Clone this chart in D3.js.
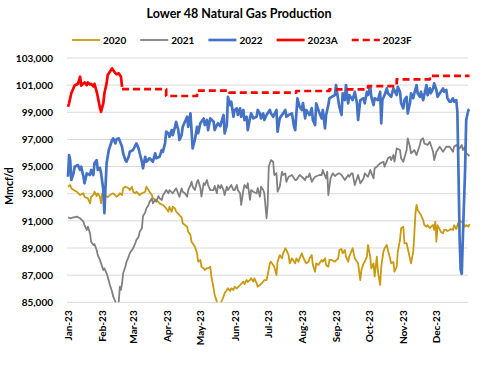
<!DOCTYPE html>
<html>
<head>
<meta charset="utf-8">
<script src="https://cdn.jsdelivr.net/npm/d3@7"></script>
<style>
  body { margin: 0; background: #fff; }
  text { font-family: Lato, "DejaVu Sans", sans-serif; font-weight: bold; fill: #000; }
</style>
</head>
<body>
<div id="chart"></div>
<script>
// daily production, [day of year (0 = Jan 1), Mmcf/d]
const prod2020 = [[0,93520],[2,93640],[3,93400],[5,93270],[8,93150],[11,92900],[14,93030],[15,92780],[18,92660],[20,92290],[21,92780],[23,92900],[24,93150],[26,92830],[27,93030],[29,92780],[30,92290],[31,93030],[33,92900],[36,92750],[38,92900],[41,93030],[44,92780],[46,92900],[47,93030],[49,92900],[50,93400],[52,93520],[55,93400],[56,93270],[58,93520],[59,93150],[61,93030],[62,93150],[65,92900],[67,93030],[70,93150],[71,93520],[74,93150],[76,92900],[77,92660],[80,92540],[82,92390],[83,92290],[86,92170],[89,91920],[91,91670],[92,92040],[94,91670],[95,92040],[97,91920],[98,91690],[101,91430],[103,91250],[104,90820],[106,90690],[108,90570],[109,90200],[111,89960],[112,89460],[113,89350],[115,89100],[117,88610],[118,87990],[120,88120],[121,87620],[123,87500],[124,87380],[126,87520],[127,87500],[129,87620],[130,86890],[132,86030],[133,85540],[135,85020],[136,84500],[137,84200],[138,84600],[139,85040],[141,85410],[142,85660],[144,85910],[145,86030],[147,85830],[148,86030],[150,85910],[151,86150],[153,86020],[156,86270],[159,86520],[160,86350],[162,86640],[163,86500],[165,86640],[166,86770],[168,86520],[169,86770],[171,86400],[172,86150],[174,86270],[177,86520],[178,86640],[180,86640],[181,87010],[183,87870],[184,87990],[186,87750],[187,87620],[189,87010],[190,87990],[192,88480],[194,88240],[195,88610],[197,88980],[198,88850],[200,88480],[201,87870],[203,88240],[204,88120],[206,87870],[207,88240],[209,87990],[210,88240],[212,88610],[213,88360],[215,87990],[216,87870],[218,87990],[219,88240],[221,88480],[222,87750],[224,87250],[225,87870],[227,87750],[228,87870],[230,88120],[231,87990],[233,88240],[234,87750],[236,87620],[237,88120],[239,88120],[242,87990],[245,88240],[246,88850],[248,88930],[249,88610],[251,88850],[252,88360],[254,87990],[255,88360],[258,88980],[260,88240],[262,87990],[263,87870],[265,86640],[266,87380],[268,87870],[269,87990],[271,88360],[272,89220],[274,88360],[275,87500],[277,87870],[278,86890],[280,88360],[281,87250],[283,86270],[284,87620],[286,88730],[287,88980],[289,89220],[290,88850],[292,88240],[293,87870],[295,87970],[296,87250],[298,87620],[299,88730],[301,89590],[302,90450],[304,90570],[305,89350],[307,89350],[308,88980],[310,88240],[311,87870],[313,88730],[314,90080],[315,91560],[316,92170],[317,91800],[319,91560],[320,91430],[322,91060],[323,90690],[325,90570],[326,90690],[328,90450],[329,90570],[331,90690],[332,90330],[333,90940],[334,89460],[335,90690],[338,90200],[340,90080],[341,90330],[343,90330],[344,90250],[346,90330],[347,90400],[349,90330],[350,90690],[352,90400],[353,90690],[355,91060],[357,90910],[358,90820],[360,90570],[361,90690],[363,90570],[364,90770]];

const prod2021 = [[0,91260],[2,91190],[5,91260],[8,91310],[11,91190],[14,90940],[15,90690],[17,90330],[18,90570],[20,90080],[21,89460],[23,89220],[24,89290],[26,88850],[27,88480],[29,88120],[30,87870],[32,87380],[33,87500],[35,87140],[36,86890],[38,86270],[40,85780],[41,85410],[43,85040],[44,84500],[45,84400],[46,85050],[47,86150],[48,85910],[49,86400],[50,87140],[52,87620],[53,87970],[55,88360],[56,88610],[58,88850],[59,88980],[61,89350],[62,89590],[64,89830],[65,90200],[67,90450],[68,91360],[70,91610],[71,91920],[73,92170],[74,92390],[76,92660],[77,92290],[79,92540],[80,92410],[82,92830],[83,92660],[85,92540],[86,92870],[88,93120],[89,93270],[91,93030],[92,93270],[95,93030],[97,93270],[98,93400],[101,92780],[103,93400],[104,93150],[106,93030],[108,92780],[109,93270],[111,93640],[112,93880],[113,93520],[115,93270],[117,93880],[118,94010],[120,93420],[121,92780],[123,93770],[124,93640],[126,94010],[127,93640],[129,93270],[132,93270],[133,93570],[135,93030],[136,93640],[138,93400],[139,93640],[141,93270],[142,92900],[144,93520],[145,93270],[147,93520],[148,93640],[150,93270],[151,93270],[153,93640],[154,93270],[156,93030],[157,92170],[159,93270],[160,93640],[162,93420],[163,93770],[165,92540],[166,93270],[168,93150],[171,93030],[172,93420],[174,92780],[175,93520],[177,93270],[178,93030],[180,91190],[181,92170],[182,94990],[184,95480],[186,95360],[187,94380],[189,94520],[190,93150],[192,93520],[194,94620],[195,94380],[197,94500],[198,93880],[200,94250],[203,94380],[204,94250],[206,94010],[207,94010],[209,94250],[210,94380],[212,94250],[215,94010],[216,94250],[218,94250],[219,94500],[221,93880],[222,94010],[224,94250],[228,94380],[230,94380],[231,94750],[233,94310],[234,94130],[235,94620],[236,92900],[238,94130],[240,94500],[242,94310],[245,94500],[246,94500],[248,94380],[251,94010],[254,94380],[255,94250],[257,94500],[258,94500],[260,93640],[263,94380],[265,93770],[268,94130],[269,94500],[272,94250],[274,94750],[277,94130],[278,94870],[280,94990],[283,95240],[286,95360],[287,94990],[290,95610],[292,95720],[293,95480],[295,95850],[296,95360],[298,96340],[301,96220],[302,95610],[304,95360],[307,96220],[308,97080],[310,96460],[311,95980],[314,96220],[316,95850],[319,96590],[320,96960],[322,97080],[323,96710],[326,96590],[328,96830],[331,96090],[332,95480],[334,96090],[337,96460],[340,96090],[343,96460],[346,96460],[349,96090],[350,96460],[352,96590],[355,96340],[357,96590],[358,96220],[360,96460],[361,95980],[363,95850],[364,95780]];

const prod2022 = [[0,94250],[1,95850],[2,95480],[3,94010],[5,94500],[6,94990],[9,95110],[11,94750],[12,94990],[14,94250],[15,93770],[17,94500],[20,94380],[21,94750],[23,94380],[24,95240],[26,95480],[27,94750],[29,94900],[30,94500],[32,93300],[33,91560],[34,93500],[35,95240],[37,96220],[40,96960],[41,97080],[43,96710],[44,97010],[46,97080],[49,96460],[50,95980],[52,95480],[53,95360],[55,95720],[56,96090],[59,96220],[62,96710],[64,96340],[65,95980],[67,95360],[68,94870],[70,95720],[71,95360],[74,95610],[77,95360],[79,95980],[80,95610],[83,95720],[85,96220],[86,96090],[88,96710],[89,97570],[91,97450],[92,97200],[94,97690],[95,97320],[97,97930],[98,98300],[100,97690],[101,96960],[103,97320],[104,97930],[108,98670],[109,97930],[111,98920],[112,97690],[113,96340],[115,96960],[117,97930],[118,97450],[120,98190],[123,98550],[124,98060],[126,98430],[127,97690],[129,98550],[132,98300],[133,97690],[135,98060],[136,98190],[138,97980],[141,98800],[142,97450],[144,98060],[145,100140],[147,99530],[148,99780],[150,98670],[151,99170],[153,99290],[154,98800],[156,99290],[157,98670],[159,99170],[160,98430],[162,98670],[163,97690],[165,98570],[166,98920],[168,98550],[171,98670],[172,99170],[174,98920],[175,98550],[177,98920],[178,98430],[180,98800],[183,99170],[184,98920],[186,98670],[189,99170],[190,97570],[192,98570],[195,98920],[197,99170],[198,98670],[200,98800],[203,98920],[205,97930],[206,97690],[208,100030],[210,99410],[212,99170],[213,99680],[215,98550],[216,99170],[218,98920],[219,98800],[221,99310],[222,98430],[224,98060],[225,99660],[227,99170],[228,98940],[230,98550],[231,99170],[233,97820],[234,98800],[236,99530],[237,100030],[239,100140],[242,100270],[243,101010],[245,99900],[246,99410],[248,98800],[249,100400],[251,99900],[252,101010],[254,99660],[255,100270],[258,99900],[260,100510],[262,99660],[263,98430],[265,99900],[268,100030],[269,99660],[271,100510],[272,100270],[274,100880],[275,100140],[277,99530],[278,100030],[281,99900],[283,100510],[284,98190],[285,99900],[287,100270],[289,100760],[290,100400],[293,100140],[295,100760],[298,100270],[299,100880],[301,100510],[302,99660],[304,99290],[305,99900],[307,100140],[308,98920],[310,99660],[311,100400],[313,100030],[314,100400],[316,101010],[317,100400],[319,100140],[320,100510],[322,99900],[323,100270],[325,101010],[326,100270],[328,100760],[329,100400],[331,100760],[332,101130],[334,100640],[335,100140],[337,100400],[338,100510],[340,100760],[341,100510],[343,100640],[344,100030],[346,99780],[347,99780],[349,100030],[350,99780],[352,99900],[353,99040],[354,94750],[355,89830],[356,87380],[357,87100],[358,89830],[360,94750],[361,98430],[363,99170],[364,99220]];

const prod2023A = [[0,99410],[1,99660],[3,100400],[6,100970],[9,101100],[11,101620],[12,100970],[14,101130],[15,101200],[17,101000],[18,101200],[20,101050],[21,101100],[23,100900],[24,101100],[26,100510],[27,100140],[29,99310],[30,99040],[32,99660],[33,100400],[35,101130],[36,101740],[38,101990],[40,102240],[41,102100],[43,101870],[44,101800],[46,101870],[47,101740],[48,101620],[49,100880]];

// forecast, stepped
const prod2023F = [[49,100700],[89,100200],[117,100600],[146,100450],[207,100570],[237,100690],[272,100930],[298,101430],[328,101690],[364,101690]];

const yTicks = d3.range(85000, 103001, 2000);

const series = [
  { name: "2020", data: prod2020, color: "#C99A10", width: 1.8 },
  { name: "2021", data: prod2021, color: "#808080", width: 1.8 },
  { name: "2022", data: prod2022, color: "#4472C4", width: 2.7 },
  { name: "2023A", data: prod2023A, color: "#FF0000", width: 2.7 },
  { name: "2023F", data: prod2023F, color: "#FF0000", width: 2.7, dash: "7,4", step: true }
];

const width = 500, height = 366;
const plot = { left: 67, right: 468, top: 58, bottom: 302.3 };

const start = new Date(2023, 0, 1);
const toDate = d => d3.timeDay.offset(start, d);

const x = d3.scaleTime()
  .domain([start, new Date(2023, 11, 31)])
  .range([68, 469.5]);
const y = d3.scaleLinear()
  .domain([85000, 103000])
  .range([plot.bottom, plot.top]);

const svg = d3.select("#chart").append("svg")
  .attr("width", width)
  .attr("height", height);

svg.append("defs").append("clipPath").attr("id", "clip")
  .append("rect")
  .attr("x", 55).attr("y", plot.top - 1)
  .attr("width", 425).attr("height", plot.bottom - plot.top + 1);

// title
svg.append("text")
  .attr("x", 239).attr("y", 18)
  .attr("text-anchor", "middle")
  .style("font-size", "12.5px")
  .text("Lower 48 Natural Gas Production");

// gridlines
svg.append("g").selectAll("line")
  .data(yTicks)
  .join("line")
  .attr("x1", plot.left).attr("x2", plot.right)
  .attr("y1", d => y(d)).attr("y2", d => y(d))
  .attr("stroke", "#d9d9d9")
  .attr("stroke-width", 1);

// y axis
const yAxis = svg.append("g")
  .attr("transform", "translate(" + plot.left + ",0)")
  .call(d3.axisLeft(y).tickValues(yTicks).tickFormat(d3.format(",")).tickSize(0).tickPadding(14));
yAxis.select(".domain").remove();
yAxis.selectAll("text").style("font-size", "10px").style("font-family", "Lato, sans-serif");

// x axis
const xAxis = svg.append("g")
  .attr("transform", "translate(0," + plot.bottom + ")")
  .call(d3.axisBottom(x).ticks(d3.timeMonth.every(1)).tickFormat(d3.timeFormat("%b-%y")).tickSize(0));
xAxis.select(".domain").remove();
xAxis.selectAll("text")
  .attr("transform", "rotate(-90)")
  .attr("text-anchor", "end")
  .attr("x", -8).attr("y", 0).attr("dy", "0.35em")
  .style("font-size", "10px").style("font-family", "Lato, sans-serif");

// y label
svg.append("text")
  .attr("transform", "translate(13,186) rotate(-90)")
  .attr("text-anchor", "middle")
  .style("font-size", "10.5px")
  .text("Mmcf/d");

// lines
const lines = svg.append("g").attr("clip-path", "url(#clip)");
series.forEach(s => {
  const line = d3.line()
    .x(d => x(toDate(d[0])))
    .y(d => y(d[1]))
    .curve(s.step ? d3.curveStepAfter : d3.curveLinear);
  lines.append("path")
    .datum(s.data)
    .attr("fill", "none")
    .attr("stroke", s.color)
    .attr("stroke-width", s.width)
    .attr("stroke-linejoin", "round")
    .attr("stroke-dasharray", s.dash || null)
    .attr("d", line);
});

// legend
const legend = svg.append("g").attr("transform", "translate(72,40)");
let lx = 0;
series.forEach(s => {
  const item = legend.append("g").attr("transform", "translate(" + lx + ",0)");
  item.append("line")
    .attr("x1", 0).attr("x2", 28)
    .attr("stroke", s.color)
    .attr("stroke-width", s.width)
    .attr("stroke-dasharray", s.dash || null);
  const t = item.append("text")
    .attr("x", 31).attr("y", 3.6)
    .style("font-size", "10px")
    .text(s.name);
  lx += 31 + t.node().getComputedTextLength() + 14;
});
</script>
</body>
</html>
